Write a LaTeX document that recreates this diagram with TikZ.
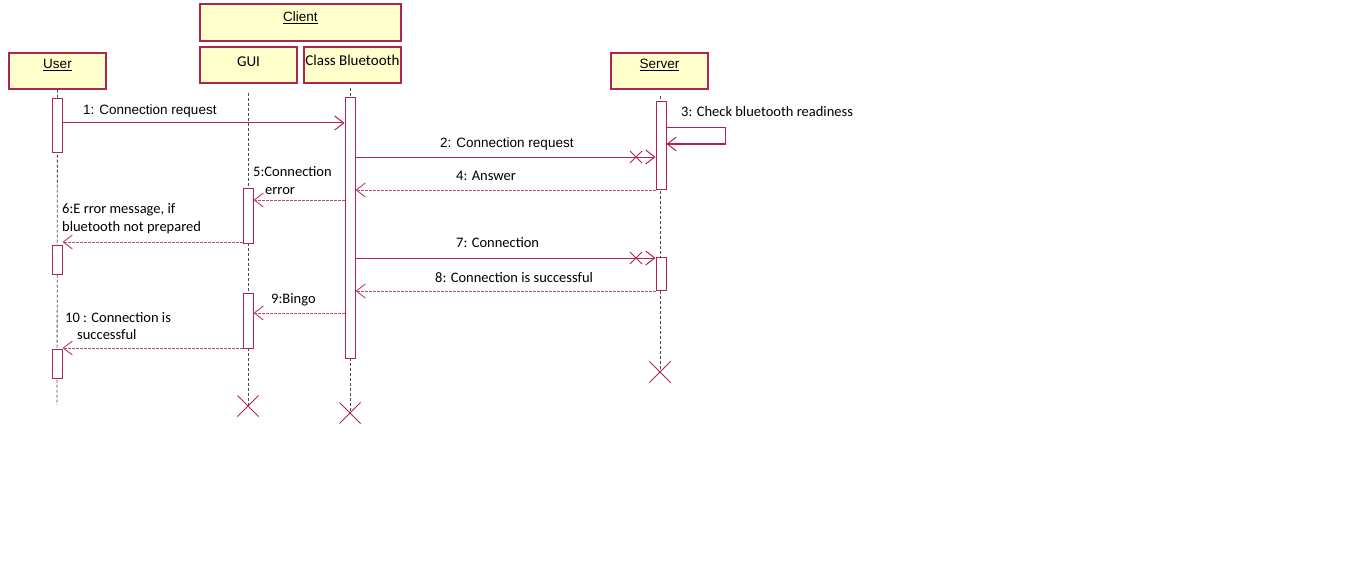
\documentclass[tikz,border=0pt]{standalone}
\usepackage{fontspec}
\setmainfont{Liberation Sans}
\newfontfamily\calfont{Carlito}
\usetikzlibrary{arrows.meta,shapes.misc}
\definecolor{umlred}{RGB}{176,36,80}
\definecolor{retred}{RGB}{192,72,112}
\definecolor{umlfill}{RGB}{255,255,204}
\begin{document}
\begin{tikzpicture}[x=1pt,y=-1pt,
  obj/.style={draw=umlred, fill=umlfill, line width=1.2pt, minimum height=36pt, minimum width=97pt, inner sep=0pt, text height=10pt, font=\fontsize{13.5}{16}\selectfont},
  act/.style={draw=umlred, fill=white, line width=1pt, minimum width=10pt, inner sep=0pt},
  life/.style={draw=black!70, dash pattern=on 3pt off 2pt, line width=0.8pt},
  msg/.style={draw=umlred, line width=1pt, -{Straight Barb[length=9pt,width=14pt]}},
  ret/.style={msg, draw=retred, dash pattern=on 3pt off 1pt},
  stop/.style={cross out, draw=umlred, line width=1pt, minimum size=20pt, inner sep=0pt},
  lbl/.style={anchor=base west, inner sep=0pt, font=\calfont\fontsize{14.5}{17}\selectfont},
  albl/.style={anchor=base west, inner sep=0pt, font=\fontsize{13.5}{16}\selectfont}]
\useasboundingbox[fill=white] (0,0) rectangle (1346,583);

\node[obj, minimum width=201pt, minimum height=37pt, text depth=11pt] (client) at (300.5,22.5) {\underline{Client}};
\node[obj, text depth=14pt] (user) at (57.5,71) {\underline{User}};
\node[obj, text depth=6pt, font=\calfont\fontsize{15}{17}\selectfont] (gui) at (248.5,65) {GUI};
\node[obj, text depth=8pt, font=\calfont\fontsize{15}{17}\selectfont] (cb) at (352.5,65) {Class Bluetooth};
\node[obj, text depth=14pt] (server) at (659.5,71) {\underline{Server}};

\node[stop] (gx) at (248,406) {};
\node[stop] (cx) at (350,413) {};
\node[stop] (sx) at (660,372) {};
\coordinate (uend) at (57,405);

\path[life] (user.south) -- (uend);
\path[life,shorten <=9pt] (gx |- gui.south) -- (gx.center);
\path[life,shorten <=4pt] (cx |- cb.south) -- (cx.center);
\path[life,shorten <=6pt] (sx |- server.south) -- (sx.center);

\node[act, minimum height=53pt] (ua1) at (57,125.5) {};
\node[act, minimum height=29pt] (ua2) at (57,259.5) {};
\node[act, minimum height=29pt] (ua3) at (57,363.5) {};
\node[act, minimum height=55pt] (ga1) at (248,215.5) {};
\node[act, minimum height=55pt] (ga2) at (248,320.5) {};
\node[act, minimum height=260pt] (ca1) at (350,228) {};
\node[act, minimum height=87pt] (sa1) at (661,145.5) {};
\node[act, minimum height=33pt] (sa2) at (661,273.5) {};

\coordinate (y1) at (0,123);
\coordinate (y2) at (0,157);
\coordinate (y3a) at (0,128);
\coordinate (y3b) at (0,144);
\coordinate (y4) at (0,190);
\coordinate (y5) at (0,200);
\coordinate (y6) at (0,242);
\coordinate (y7) at (0,258);
\coordinate (y8) at (0,291);
\coordinate (y9) at (0,313);
\coordinate (y10) at (0,348);

\path[msg] (ua1.east |- y1) -- (ca1.west |- y1);
\path[msg] (ca1.east |- y2) -- (sa1.west |- y2);
\node[stop, minimum size=11pt] (x2) at (636,157) {};
\path[msg] (sa1.east |- y3a) -- ++(59,0) |- (sa1.east |- y3b);
\path[ret] (sa1.west |- y4) -- (ca1.east |- y4);
\path[ret] (ca1.west |- y5) -- (ga1.east |- y5);
\path[ret] (ga1.west |- y6) -- (ua2.east |- y6);
\path[msg] (ca1.east |- y7) -- (sa2.west |- y7);
\node[stop, minimum size=11pt] (x7) at (636,258) {};
\path[ret] (sa2.west |- y8) -- (ca1.east |- y8);
\path[ret] (ca1.west |- y9) -- (ga2.east |- y9);
\path[ret] (ga2.west |- y10) -- (ua3.east |- y10);

\node[albl] (t1) at (83,114) {1: Connection request};
\node[albl] (t2) at (440,147) {2: Connection request};
\node[lbl] (t3) at (681,117) {3: Check bluetooth readiness};
\node[lbl] (t4) at (456,180) {4: Answer};
\node[lbl] (t5) at (253,176) {5:Connection};
\node[lbl] (t5b) at (265,194) {error};
\node[lbl] (t6) at (62,213) {6:E rror message, if};
\node[lbl] (t6b) at (62,231) {bluetooth not prepared};
\node[lbl] (t7) at (456,247) {7: Connection};
\node[lbl] (t8) at (435,282) {8: Connection is successful};
\node[lbl] (t9) at (271,303) {9:Bingo};
\node[lbl] (t10) at (65,322) {10 : Connection is};
\node[lbl] (t10b) at (77,339) {successful};
\end{tikzpicture}
\end{document}
